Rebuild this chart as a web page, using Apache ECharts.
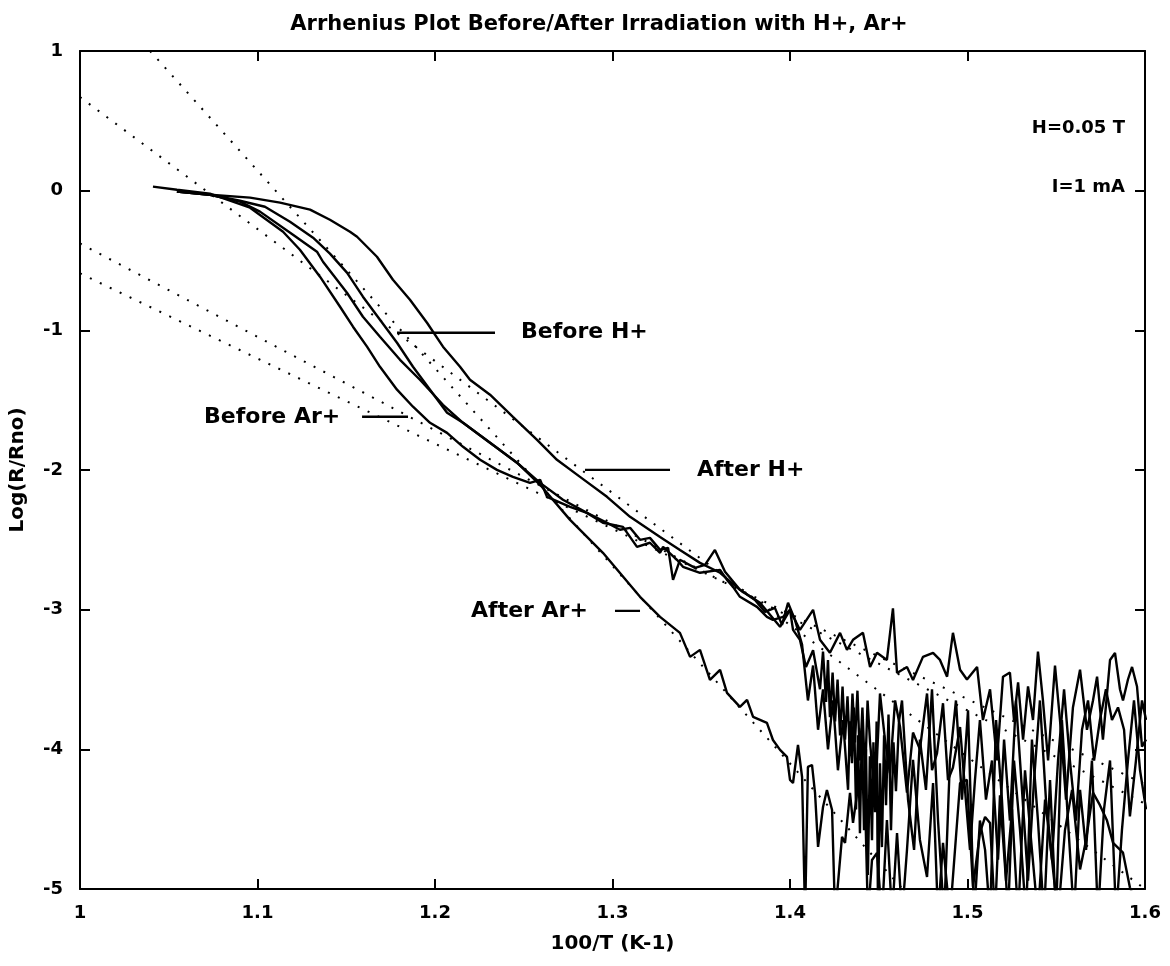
<!DOCTYPE html>
<html>
<head>
<meta charset="utf-8">
<script src="https://cdn.jsdelivr.net/npm/echarts@6/dist/echarts.min.js"></script>
<style>
html,body{margin:0;padding:0;background:#fff;}
#chart{width:1170px;height:966px;}
</style>
</head>
<body>
<div id="chart"></div>
<script>
// ---------- data (x = 100/T, y = Log(R/Rno)) ----------
var titleText = 'Arrhenius Plot Before/After Irradiation with H+, Ar+';
var xTickMin = 1, xTickMax = 1.6, xTickStep = 0.1;
var yTickMin = -5, yTickMax = 1, yTickStep = 1;

var curveBeforeAr = [
[1.0411,0.029],[1.0546,0.007],[1.0732,-0.021],[1.0958,-0.122],[1.1144,-0.294],[1.1239,-0.423],
[1.1352,-0.616],[1.1465,-0.831],[1.1538,-0.974],[1.1617,-1.117],[1.1690,-1.261],[1.1786,-1.425],
[1.1876,-1.547],[1.1972,-1.662],[1.2068,-1.734],[1.2158,-1.834],[1.2254,-1.927],[1.2349,-1.999],
[1.2439,-2.049],[1.2535,-2.092],[1.2592,-2.070],[1.2631,-2.192],[1.2761,-2.264],[1.2856,-2.307],
[1.2958,-2.371],[1.3042,-2.428],[1.3099,-2.414],[1.3155,-2.500],[1.3211,-2.486],[1.3268,-2.572],
[1.3313,-2.557],[1.3341,-2.787],[1.3380,-2.643],[1.3465,-2.701],[1.3521,-2.679],[1.3577,-2.572],
[1.3634,-2.729],[1.3718,-2.858],[1.3803,-2.930],[1.3859,-3.016],[1.3915,-2.987],[1.3955,-3.109],
[1.3989,-2.951],[1.4028,-3.073],[1.4068,-3.25],[1.4101,-3.65],[1.4130,-3.40],[1.4158,-3.86],
[1.4186,-3.57],[1.4214,-4.00],[1.4242,-3.65],[1.4270,-4.15],[1.4299,-3.79],[1.4327,-4.29],
[1.4338,-3.80],[1.4349,-4.10],[1.4360,-3.70],[1.4372,-4.43],[1.4383,-3.90],[1.4394,-4.60],
[1.4405,-3.85],[1.4417,-4.58],[1.4428,-4.00],[1.4439,-4.90],[1.4450,-4.05],[1.4462,-4.65],
[1.4470,-3.95],[1.4479,-4.45],[1.4488,-3.80],[1.4496,-5.2],[1.4507,-4.10],[1.4518,-4.70],
[1.4530,-3.90],[1.4541,-4.40],[1.4555,-3.75],[1.4569,-4.58],[1.4583,-3.95],[1.4597,-4.30],
[1.4614,-3.80],[1.4631,-3.65],[1.4665,-4.36],[1.4699,-4.72],[1.4732,-3.93],[1.4766,-4.29],
[1.4800,-3.57],[1.4834,-4.51],[1.4868,-5.2],[1.4901,-4.08],[1.4935,-3.65],[1.4969,-4.36],
[1.5003,-3.72],[1.5037,-5.2],[1.5070,-4.51],[1.5099,-4.72],[1.5127,-5.2],[1.5161,-3.79],
[1.5194,-4.36],[1.5228,-5.2],[1.5262,-4.08],[1.5296,-4.58],[1.5330,-5.2],[1.5363,-3.93],
[1.5397,-4.51],[1.5431,-5.2],[1.5465,-4.22],[1.5499,-5.2],[1.5532,-3.79],[1.5566,-4.51],
[1.5600,-5.2],[1.5634,-4.29],[1.5668,-4.72],[1.5701,-4.08],[1.5735,-5.2],[1.5769,-4.43],
[1.5803,-4.08],[1.5837,-5.2],[1.5870,-4.58],[1.5904,-4.08],[1.5938,-3.65],[1.5972,-4.15],
[1.6006,-4.43]
];

var curveAfterAr = [
[1.0546,-0.007],[1.0732,-0.029],[1.0901,-0.079],[1.1014,-0.150],[1.1200,-0.315],[1.1335,-0.437],
[1.1369,-0.509],[1.1504,-0.731],[1.1594,-0.903],[1.1690,-1.046],[1.1803,-1.211],[1.1915,-1.354],
[1.2045,-1.533],[1.2158,-1.662],[1.2310,-1.805],[1.2462,-1.948],[1.2592,-2.106],[1.2761,-2.357],
[1.2946,-2.593],[1.3155,-2.908],[1.3268,-3.052],[1.3380,-3.166],[1.3437,-3.338],[1.3493,-3.288],
[1.3549,-3.503],[1.3606,-3.431],[1.3645,-3.596],[1.3718,-3.696],[1.3758,-3.646],[1.3792,-3.768],
[1.3870,-3.811],[1.3904,-3.933],[1.3944,-4.004],[1.3983,-4.054],[1.4000,-4.219],[1.4017,-4.241],
[1.4045,-3.968],[1.4068,-4.198],[1.4085,-5.2],[1.4101,-4.126],[1.4124,-4.112],[1.4141,-4.312],
[1.4158,-4.699],[1.4186,-4.413],[1.4208,-4.291],[1.4237,-4.434],[1.4254,-5.2],[1.4293,-4.627],
[1.4310,-4.670],[1.4338,-4.312],[1.4355,-4.527],[1.4383,-4.269],[1.4406,-4.241],[1.4423,-4.362],
[1.4439,-5.2],[1.4462,-4.792],[1.4490,-4.742],[1.4518,-5.2],[1.4546,-4.506],[1.4575,-5.2],
[1.4603,-4.599],[1.4631,-5.2],[1.4659,-4.721],[1.4693,-4.076],[1.4732,-4.649],[1.4772,-4.914],
[1.4806,-4.241],[1.4834,-5.2],[1.4862,-4.670],[1.4901,-5.2],[1.4958,-4.241],[1.4997,-4.219],
[1.5031,-4.986],[1.5070,-4.599],[1.5099,-4.484],[1.5127,-4.527],[1.5155,-5.2],[1.5183,-4.33],
[1.5217,-4.94],[1.5251,-4.43],[1.5285,-5.2],[1.5324,-4.15],[1.5363,-4.72],[1.5397,-5.2],
[1.5437,-4.36],[1.5476,-4.79],[1.5510,-5.2],[1.5549,-4.58],[1.5589,-4.29],[1.5634,-4.86],
[1.5668,-4.65],[1.5707,-4.31],[1.5746,-4.40],[1.5786,-4.51],[1.5820,-4.67],[1.5876,-4.74],
[1.5915,-4.99],[1.5955,-5.11]
];

var curveBeforeH = [
[1.0546,-0.007],[1.0732,-0.029],[1.0901,-0.072],[1.1042,-0.115],[1.1183,-0.222],[1.1313,-0.337],
[1.1408,-0.451],[1.1504,-0.587],[1.1594,-0.759],[1.1690,-0.924],[1.1786,-1.089],[1.1876,-1.261],
[1.1972,-1.425],[1.2068,-1.590],[1.2158,-1.662],[1.2310,-1.805],[1.2462,-1.948],[1.2592,-2.092],
[1.2721,-2.213],[1.2856,-2.307],[1.2946,-2.378],[1.3059,-2.407],[1.3138,-2.550],[1.3211,-2.521],
[1.3268,-2.593],[1.3285,-2.550],[1.3363,-2.643],[1.3397,-2.693],[1.3493,-2.736],[1.3606,-2.715],
[1.3645,-2.787],[1.3679,-2.837],[1.3718,-2.908],[1.3814,-2.980],[1.3870,-3.052],[1.3904,-3.073],
[1.3961,-3.052],[1.4000,-3.001],[1.4017,-3.145],[1.4056,-3.216],[1.4090,-3.41],[1.4130,-3.29],
[1.4169,-3.57],[1.4186,-3.30],[1.4203,-3.66],[1.4214,-3.36],[1.4225,-3.77],[1.4240,-3.45],
[1.4254,-3.80],[1.4268,-3.50],[1.4282,-3.90],[1.4296,-3.55],[1.4310,-3.93],[1.4324,-3.62],
[1.4338,-4.05],[1.4352,-3.60],[1.4366,-3.95],[1.4380,-3.58],[1.4394,-4.08],[1.4408,-3.70],
[1.4423,-4.20],[1.4437,-3.65],[1.4451,-3.95],[1.4479,-4.36],
[1.4507,-3.60],[1.4535,-3.93],[1.4563,-4.17],[1.4592,-3.65],[1.4620,-3.84],[1.4659,-4.31],
[1.4693,-3.88],[1.4732,-4.00],[1.4772,-3.60],[1.4800,-4.15],[1.4828,-4.03],[1.4862,-3.67],
[1.4890,-4.22],[1.4918,-4.13],[1.4958,-3.84],[1.4986,-4.29],[1.5014,-4.72],[1.5042,-4.22],
[1.5070,-3.79],[1.5104,-4.36],[1.5138,-4.08],[1.5172,-4.79],[1.5206,-3.93],[1.5239,-4.51],
[1.5273,-3.65],[1.5307,-4.29],[1.5341,-4.94],[1.5375,-4.22],[1.5408,-3.65],[1.5442,-4.36],
[1.5476,-4.79],[1.5510,-4.08],[1.5544,-3.57],[1.5577,-4.08],[1.5611,-4.51],[1.5645,-3.86],
[1.5679,-3.65],[1.5713,-4.08],[1.5746,-3.79],[1.5780,-3.57],[1.5814,-3.79],[1.5848,-3.70],
[1.5882,-3.86],[1.5915,-4.48],[1.5949,-4.08],[1.5983,-3.65],[1.6006,-3.79]
];

var curveAfterH = [
[1.0546,-0.007],[1.0732,-0.029],[1.0958,-0.050],[1.1127,-0.086],[1.1296,-0.136],[1.1408,-0.208],
[1.1521,-0.294],[1.1561,-0.330],[1.1673,-0.473],[1.1763,-0.638],[1.1859,-0.781],[1.1955,-0.946],
[1.2045,-1.117],[1.2141,-1.261],[1.2197,-1.354],[1.2310,-1.461],[1.2439,-1.619],[1.2575,-1.784],
[1.2687,-1.927],[1.2817,-2.049],[1.2969,-2.192],[1.3099,-2.335],[1.3268,-2.479],[1.3380,-2.572],
[1.3493,-2.665],[1.3606,-2.736],[1.3718,-2.858],[1.3831,-2.951],[1.3944,-3.123],[1.4000,-3.001],
[1.4056,-3.145],[1.4130,-3.001],[1.4169,-3.216],[1.4225,-3.309],[1.4282,-3.166],[1.4321,-3.288],
[1.4355,-3.216],[1.4411,-3.166],[1.4451,-3.41],[1.4490,-3.309],[1.4546,-3.36],[1.4580,-2.99],
[1.4603,-3.453],[1.4659,-3.41],[1.4693,-3.503],[1.4749,-3.338],[1.4806,-3.309],[1.4845,-3.36],
[1.4885,-3.48],[1.4918,-3.166],[1.4958,-3.43],[1.4997,-3.50],[1.5054,-3.41],[1.5087,-3.79],
[1.5127,-3.57],[1.5166,-4.08],[1.5200,-3.48],[1.5239,-3.45],[1.5262,-3.79],[1.5285,-3.52],
[1.5313,-3.93],[1.5341,-3.55],[1.5369,-3.79],[1.5397,-3.30],[1.5425,-3.65],[1.5454,-4.08],
[1.5493,-3.40],[1.5521,-3.79],[1.5555,-4.36],[1.5594,-3.70],[1.5634,-3.43],[1.5673,-3.86],
[1.5707,-3.65],[1.5730,-3.48],[1.5763,-3.93],[1.5803,-3.36],[1.5831,-3.31],[1.5859,-3.57],
[1.5876,-3.65],[1.5904,-3.50],[1.5927,-3.41],[1.5955,-3.55],[1.5983,-3.98],[1.6006,-3.93]
];

// dotted linear fits (end points)
var fitAfterAr  = [[1.0395, 1.0], [1.4635, -5.0]];
var fitBeforeH  = [[1.0, 0.67], [1.6, -5.0]];
var fitAfterH   = [[1.0, -0.378], [1.6, -4.39]];
var fitBeforeAr = [[1.0, -0.592], [1.6, -4.25]];

// annotation pointer lines and labels
var pointerBeforeH  = [[1.1786, -1.017], [1.2338, -1.017]];
var pointerAfterH   = [[1.2845, -1.999], [1.3324, -1.999]];
var pointerBeforeAr = [[1.1589, -1.619], [1.1848, -1.619]];
var pointerAfterAr  = [[1.3014, -3.009], [1.3155, -3.009]];
var labelNames  = ['Before H+', 'After H+', 'Before Ar+', 'After Ar+'];
var labelPoints = [[1.2485, -1.017], [1.3476, -1.999], [1.0699, -1.619], [1.2203, -3.009]];
var noteNames   = ['H=0.05 T', 'I=1 mA'];
var notePoints  = [[1.5887, 0.444], [1.5887, 0.021]];

// ---------- chart ----------
var FONT = 'DejaVu Sans';
var chart = echarts.init(document.getElementById('chart'), null, {renderer: 'canvas'});

function solid(data) {
  return {type: 'line', data: data, showSymbol: false, symbol: 'none', silent: true,
    lineStyle: {color: '#000', width: 2.4}, z: 3, animation: false};
}
function dotted(data) {
  return {type: 'line', data: data, showSymbol: false, symbol: 'none', silent: true,
    lineStyle: {color: '#000', width: 2, type: [2, 9]}, z: 2, animation: false};
}
function pointer(data) {
  return {type: 'line', data: data, showSymbol: false, symbol: 'none', silent: true,
    lineStyle: {color: '#000', width: 2.4}, z: 4, animation: false};
}

var axisLineStyle = {color: '#000', width: 2};
var tickStyle = {inside: true, length: 10, lineStyle: {color: '#000', width: 2}};
var labelStyle = {color: '#000', fontFamily: FONT, fontWeight: 'bold', fontSize: 18};

var option = {
  backgroundColor: '#fff',
  animation: false,
  title: {
    text: titleText, left: 594, top: 9, textAlign: 'center',
    textStyle: {color: '#000', fontFamily: FONT, fontWeight: 'bold', fontSize: 21}
  },
  grid: {left: 80, right: 25, top: 51, bottom: 77, containLabel: false},
  xAxis: [{
    type: 'value', position: 'bottom', min: xTickMin, max: xTickMax, interval: xTickStep,
    axisLine: {show: true, onZero: false, lineStyle: axisLineStyle},
    axisTick: tickStyle, splitLine: {show: false},
    axisLabel: Object.assign({margin: 15}, labelStyle),
    name: '100/T (K-1)', nameLocation: 'middle', nameGap: 45,
    nameTextStyle: {color: '#000', fontFamily: FONT, fontWeight: 'bold', fontSize: 20}
  }, {
    type: 'value', position: 'top', min: xTickMin, max: xTickMax, interval: xTickStep,
    axisLine: {show: true, onZero: false, lineStyle: axisLineStyle},
    axisTick: tickStyle, splitLine: {show: false}, axisLabel: {show: false}
  }],
  yAxis: [{
    type: 'value', position: 'left', min: yTickMin, max: yTickMax, interval: yTickStep,
    axisLine: {show: true, onZero: false, lineStyle: axisLineStyle},
    axisTick: tickStyle, splitLine: {show: false},
    axisLabel: Object.assign({margin: 17}, labelStyle),
    name: 'Log(R/Rno)', nameLocation: 'middle', nameGap: 52, nameRotate: 90,
    nameTextStyle: {color: '#000', fontFamily: FONT, fontWeight: 'bold', fontSize: 20}
  }, {
    type: 'value', position: 'right', min: yTickMin, max: yTickMax, interval: yTickStep,
    axisLine: {show: true, onZero: false, lineStyle: axisLineStyle},
    axisTick: tickStyle, splitLine: {show: false}, axisLabel: {show: false}
  }],
  series: [
    dotted(fitAfterAr), dotted(fitBeforeH), dotted(fitAfterH), dotted(fitBeforeAr),
    solid(curveBeforeAr), solid(curveAfterAr), solid(curveBeforeH), solid(curveAfterH),
    pointer(pointerBeforeH), pointer(pointerAfterH), pointer(pointerBeforeAr), pointer(pointerAfterAr),
    {
      type: 'scatter', symbolSize: 0, silent: true, z: 5,
      itemStyle: {opacity: 1},
      data: labelPoints.map(function (p, i) { return {name: labelNames[i], value: p}; }),
      label: {show: true, position: 'right', distance: 0, formatter: '{b}', opacity: 1,
        color: '#000', fontFamily: FONT, fontWeight: 'bold', fontSize: 22}
    },
    {
      type: 'scatter', symbolSize: 0, silent: true, z: 5,
      itemStyle: {opacity: 1},
      data: notePoints.map(function (p, i) { return {name: noteNames[i], value: p}; }),
      label: {show: true, position: 'left', distance: 0, formatter: '{b}', opacity: 1,
        color: '#000', fontFamily: FONT, fontWeight: 'bold', fontSize: 18}
    }
  ]
};
chart.setOption(option);
</script>
</body>
</html>
